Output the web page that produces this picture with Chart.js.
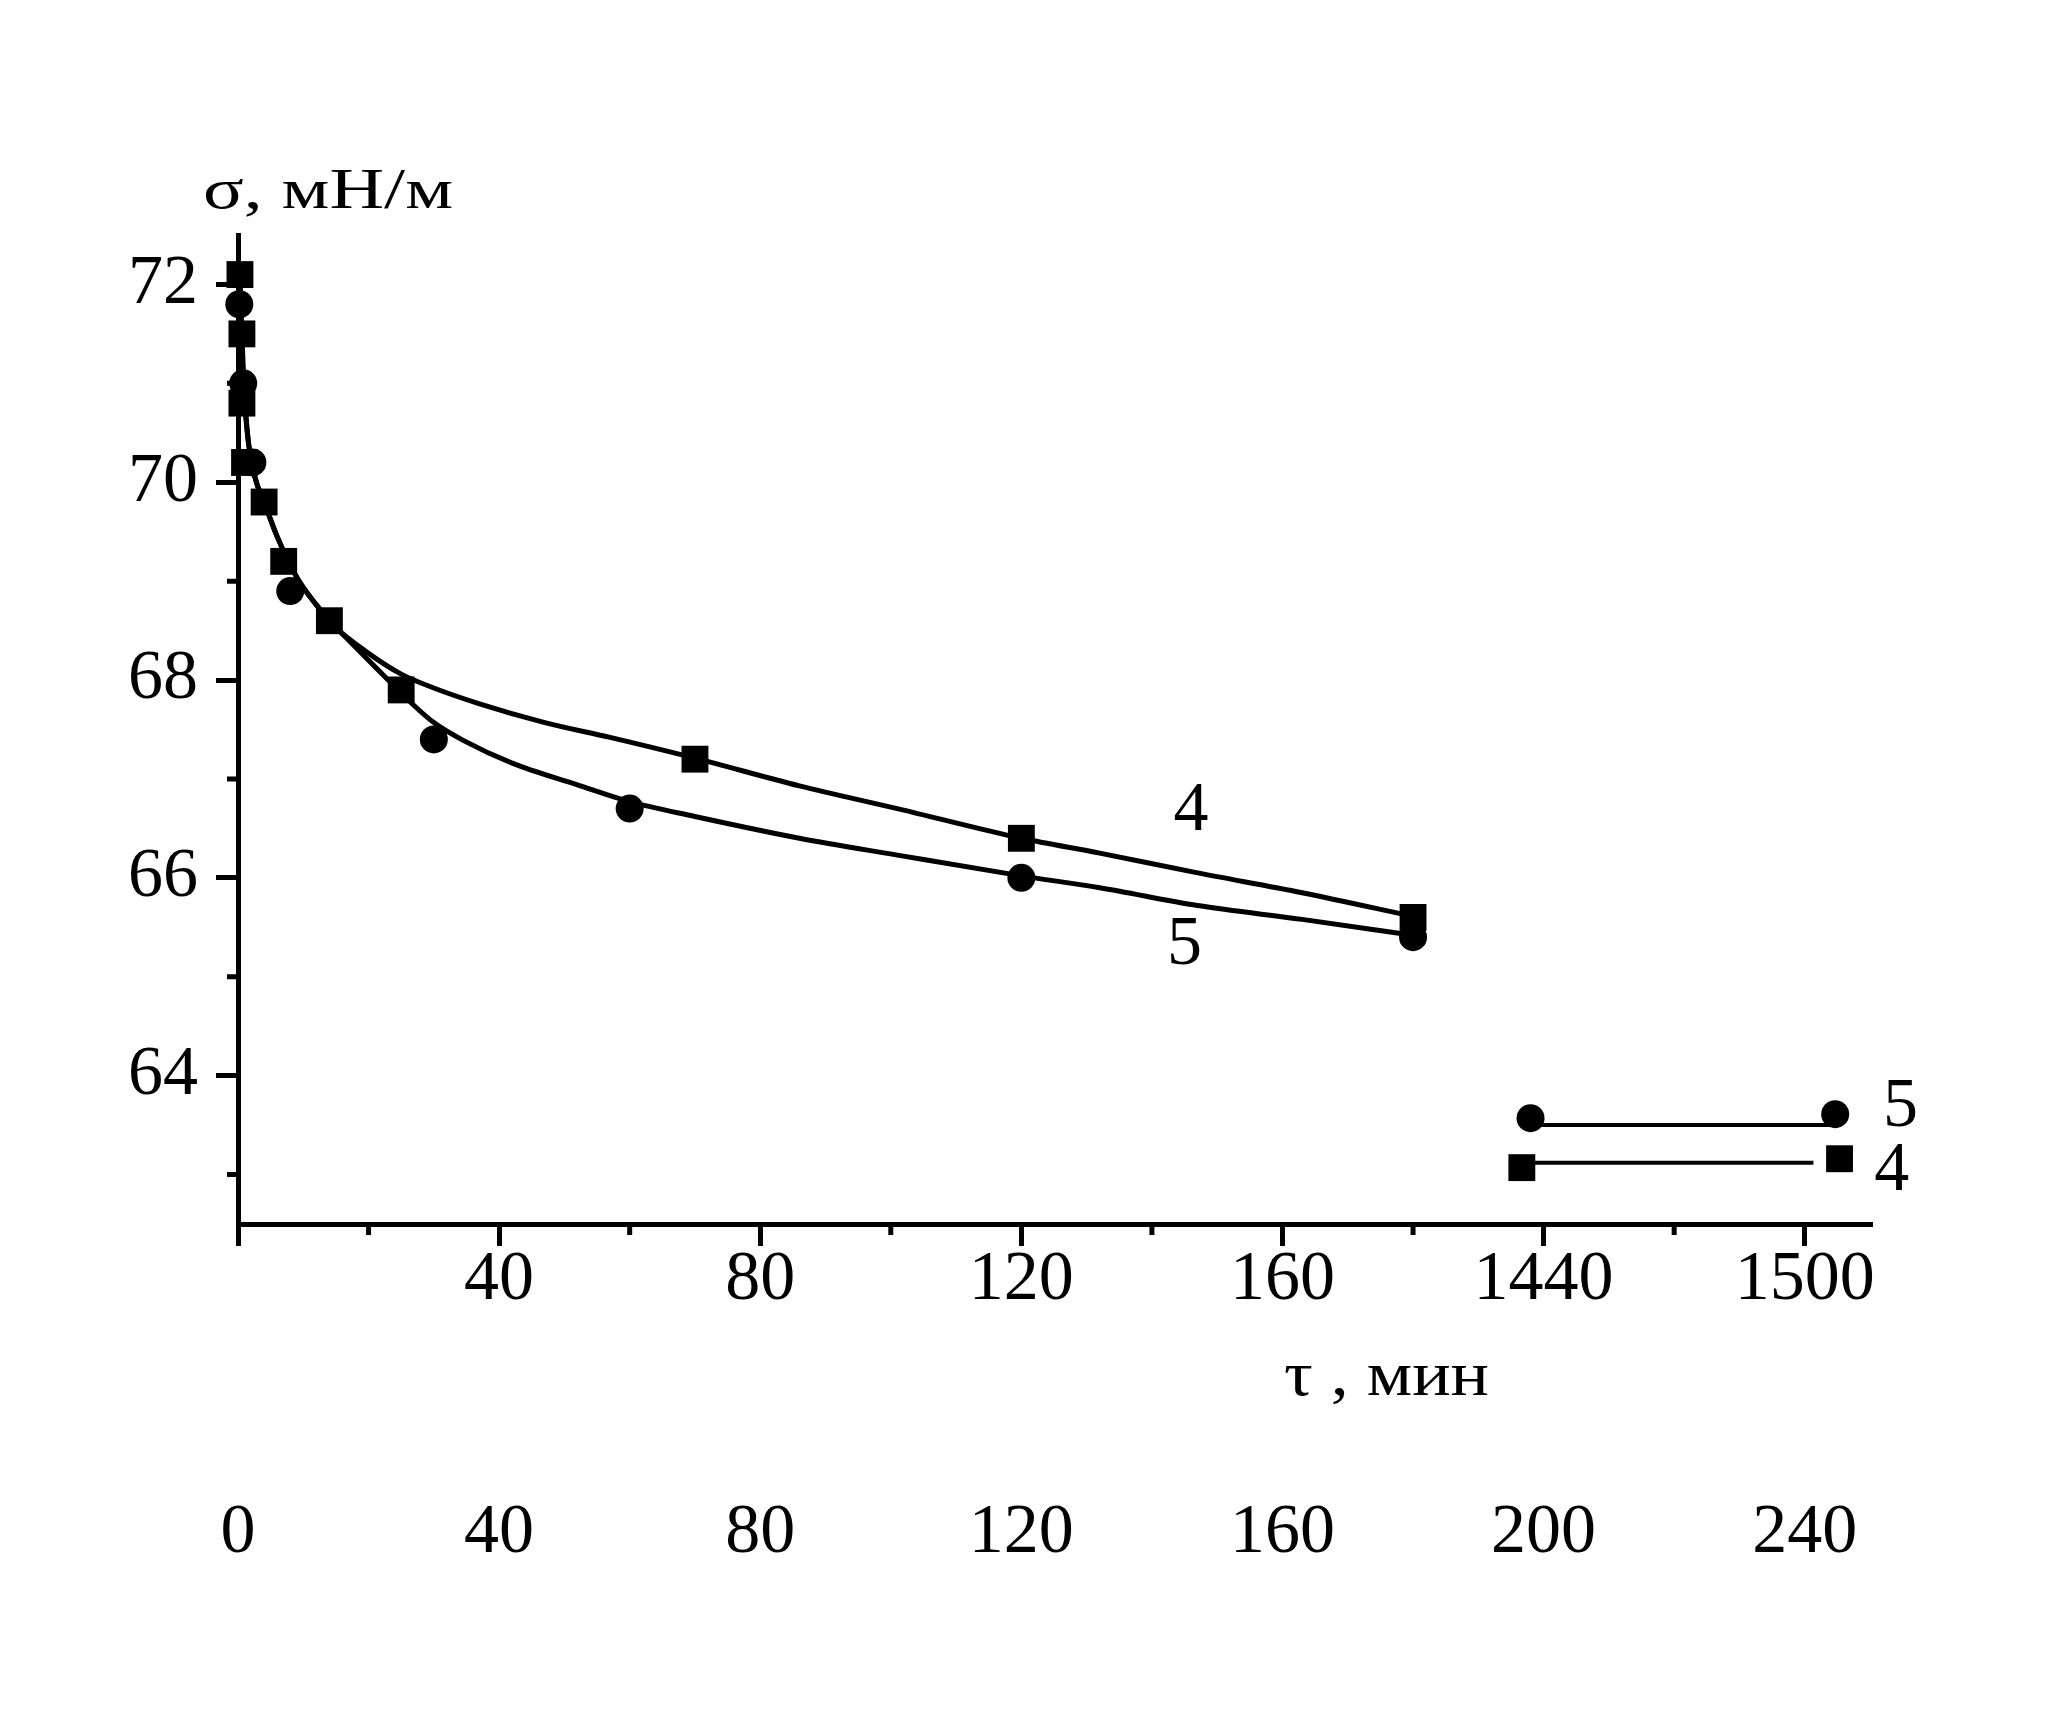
<!DOCTYPE html>
<html>
<head>
<meta charset="utf-8">
<script src="https://cdn.jsdelivr.net/npm/chart.js@4.4.0/dist/chart.umd.min.js"></script>
<style>
  html, body { margin: 0; padding: 0; background: #fff; }
  #wrap { width: 2048px; height: 1716px; }
</style>
</head>
<body>
<div id="wrap"><canvas id="chart" width="2048" height="1716"></canvas></div>
<script>
// time in minutes, sigma in mN/m
const sq4Time  = [0.3, 0.6, 0.6, 1.0, 4, 7, 14, 25, 70, 120, 180, 1435, 1508];
const sq4Sigma = [72.1, 71.5, 70.8, 70.2, 69.8, 69.2, 68.6, 67.9, 67.2, 66.4, 65.6, 63.07, 63.16];
const ci5Time  = [0.2, 0.8, 2.2, 8, 30, 60, 120, 180, 1437, 1507];
const ci5Sigma = [71.8, 71.0, 70.2, 68.9, 67.4, 66.7, 66.0, 65.4, 63.57, 63.61];

// fitted curves (traced)
const fit4Time  = [0.3, 0.6, 1.0, 1.6, 2.6, 4, 6, 9, 12, 15, 20, 25, 30, 37, 47, 57, 70, 86, 101, 120, 132, 147, 163, 180];
const fit4Sigma = [72.1, 71.5, 70.9, 70.4, 70.05, 69.8, 69.45, 69.04, 68.76, 68.53, 68.27, 68.06, 67.92, 67.76, 67.57, 67.42, 67.21, 66.93, 66.70, 66.40, 66.25, 66.05, 65.85, 65.61];
const fit5Time  = [0.2, 0.8, 1.6, 2.6, 4, 6, 9, 12, 15, 17, 20, 23, 27, 30, 34.5, 42, 52, 60, 70, 86, 101, 120, 132, 147, 163, 180];
const fit5Sigma = [71.8, 71.0, 70.4, 70.05, 69.8, 69.45, 69.04, 68.76, 68.53, 68.40, 68.2, 68.0, 67.74, 67.57, 67.39, 67.16, 66.94, 66.77, 66.62, 66.40, 66.23, 66.02, 65.90, 65.72, 65.58, 65.42];

// after ~24 h
const flat4Time  = [1435, 1502];
const flat4Sigma = [63.12, 63.12];
const flat5Time  = [1437, 1507];
const flat5Sigma = [63.5, 63.5];

// axes
const xMajor  = [0, 40, 80, 120, 160, 200, 240];
const xMinor  = [20, 60, 100, 140, 180, 220];
const xLabels = ["", "40", "80", "120", "160", "1440", "1500"];
const x2Labels = ["0", "40", "80", "120", "160", "200", "240"];
const yMajor  = [64, 66, 68, 70, 72];
const yMinor  = [63, 65, 67, 69, 71];

// curve numbers
const curveNotes = [
  { text: "4", t: 146, s: 66.67 },
  { text: "5", t: 145, s: 65.31 },
  { text: "5", t: 1522, s: 63.68 },
  { text: "4", t: 1520, s: 63.03 }
];

// broken axis: 1440 min sits at 200, 1500 at 240
function axisPos(t) {
  return t <= 200 ? t : 200 + (t - 1440) / 1.5;
}
function pts(ts, ss) {
  return ts.map((t, i) => ({ x: axisPos(t), y: ss[i] }));
}

const FONT = "'Liberation Serif', 'DejaVu Serif', serif";
Chart.defaults.font.family = FONT;
Chart.defaults.color = "#000";

const extras = {
  id: "extras",
  afterDraw(chart) {
    const ctx = chart.ctx;
    const xs = chart.scales.x, ys = chart.scales.y;
    ctx.save();
    ctx.strokeStyle = "#000";
    ctx.lineWidth = 5;
    // short ticks
    ctx.beginPath();
    xMinor.forEach(v => {
      const px = xs.getPixelForValue(v);
      ctx.moveTo(px, xs.top);
      ctx.lineTo(px, xs.top + 11);
    });
    yMinor.forEach(v => {
      const py = ys.getPixelForValue(v);
      ctx.moveTo(ys.right, py);
      ctx.lineTo(ys.right - 11, py);
    });
    ctx.stroke();

    ctx.fillStyle = "#000";
    ctx.textAlign = "center";
    ctx.textBaseline = "middle";
    ctx.font = "70px " + FONT;
    curveNotes.forEach(n => {
      ctx.fillText(n.text, xs.getPixelForValue(axisPos(n.t)), ys.getPixelForValue(n.s));
    });

    // axis titles, stretched like in the source
    function stretched(text, size, left, base, width) {
      ctx.save();
      ctx.font = size + "px " + FONT;
      ctx.textAlign = "left";
      ctx.textBaseline = "alphabetic";
      const w = ctx.measureText(text).width;
      ctx.translate(left, base);
      ctx.scale(width / w, 1);
      ctx.fillText(text, 0, 0);
      ctx.restore();
    }
    stretched("σ, мН/м", 56, 203, 208, 250);
    stretched("τ , мин", 63, 1284, 1395, 205);
    ctx.restore();
  }
};

const tickFont = { size: 70, lineHeight: 1 };

new Chart(document.getElementById("chart"), {
  type: "line",
  data: {
    datasets: [
      { data: pts(fit4Time, fit4Sigma), borderColor: "#000", borderWidth: 5, pointRadius: 0, cubicInterpolationMode: "monotone", clip: false },
      { data: pts(fit5Time, fit5Sigma), borderColor: "#000", borderWidth: 5, pointRadius: 0, cubicInterpolationMode: "monotone", clip: false },
      { data: pts(flat4Time, flat4Sigma), borderColor: "#000", borderWidth: 4, pointRadius: 0 },
      { data: pts(flat5Time, flat5Sigma), borderColor: "#000", borderWidth: 4, pointRadius: 0 },
      { data: pts(sq4Time, sq4Sigma), showLine: false, pointStyle: "rect", pointRadius: 19, pointBackgroundColor: "#000", pointBorderWidth: 0, clip: false },
      { data: pts(ci5Time, ci5Sigma), showLine: false, pointStyle: "circle", pointRadius: 14, pointBackgroundColor: "#000", pointBorderWidth: 0, clip: false }
    ]
  },
  options: {
    responsive: false,
    animation: false,
    devicePixelRatio: 1,
    layout: { padding: { left: 0, top: 235, right: 178, bottom: 100 } },
    plugins: { legend: { display: false }, tooltip: { enabled: false } },
    scales: {
      x: {
        type: "linear", position: "bottom", min: 0, max: 250,
        afterBuildTicks: s => { s.ticks = xMajor.map(v => ({ value: v })); },
        afterFit: s => { s.height = 150; },
        ticks: { autoSkip: false, maxRotation: 0, padding: 0, font: tickFont, callback: v => xLabels[xMajor.indexOf(v)] },
        grid: { drawOnChartArea: false, drawTicks: true, tickLength: 22, lineWidth: 5, color: "#000" },
        border: { display: true, width: 5, color: "#000" }
      },
      x2: {
        type: "linear", position: "bottom", min: 0, max: 250,
        afterBuildTicks: s => { s.ticks = xMajor.map(v => ({ value: v })); },
        afterFit: s => { s.height = 242; },
        ticks: { autoSkip: false, maxRotation: 0, padding: 117, font: tickFont, callback: v => x2Labels[xMajor.indexOf(v)] },
        grid: { display: false },
        border: { display: false }
      },
      y: {
        type: "linear", position: "left", min: 62.5, max: 72.5,
        afterBuildTicks: s => { s.ticks = yMajor.map(v => ({ value: v })); },
        afterFit: s => { s.width = 238; },
        ticks: { padding: 18, font: tickFont, callback: v => String(v) },
        grid: { drawOnChartArea: false, drawTicks: true, tickLength: 22, lineWidth: 5, color: "#000" },
        border: { display: true, width: 5, color: "#000" }
      }
    }
  },
  plugins: [extras]
});
</script>
</body>
</html>
